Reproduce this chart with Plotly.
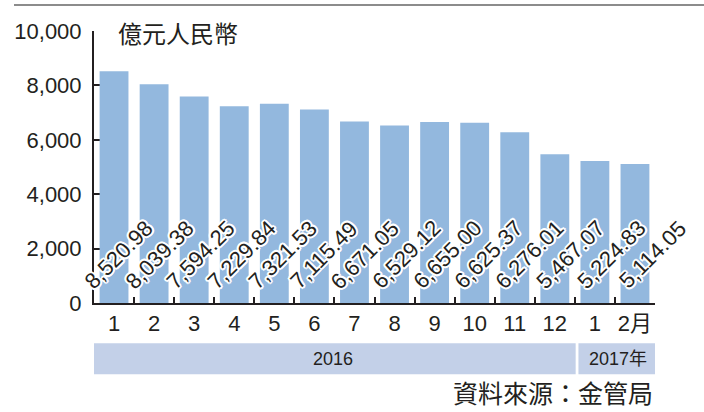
import plotly.graph_objects as go

cat_ids = ["2016-01", "2016-02", "2016-03", "2016-04", "2016-05", "2016-06", "2016-07",
           "2016-08", "2016-09", "2016-10", "2016-11", "2016-12", "2017-01", "2017-02"]
tick_labels = ["1", "2", "3", "4", "5", "6", "7", "8", "9", "10", "11", "12", "1", "2月"]
values = [8520.98, 8039.38, 7594.25, 7229.84, 7321.53, 7115.49, 6671.05,
          6529.12, 6655.00, 6625.37, 6276.01, 5467.07, 5224.83, 5114.05]
value_texts = ["8,520.98", "8,039.38", "7,594.25", "7,229.84", "7,321.53", "7,115.49", "6,671.05",
               "6,529.12", "6,655.00", "6,625.37", "6,276.01", "5,467.07", "5,224.83", "5,114.05"]
y_ticks = [0, 2000, 4000, 6000, 8000, 10000]
y_tick_text = ["0", "2,000", "4,000", "6,000", "8,000", "10,000"]
years = ["2016", "2017年"]
unit_label = "億元人民幣"
source_label = "資料來源：金管局"

NUM = "Liberation Sans, Arial, Noto Sans CJK TC, sans-serif"
CJK = "Noto Sans CJK TC, Noto Sans CJK SC, sans-serif"
INK = "#231f20"
BAR = "#93b8de"
BAND = "#c3d0e8"

fig = go.Figure(go.Bar(x=cat_ids, y=values, marker=dict(color=BAR, line=dict(width=0)),
                       hoverinfo="skip"))

halo = ("white 2px 0px 0px, white -2px 0px 0px, white 0px 2px 0px, white 0px -2px 0px, "
        "white 1.5px 1.5px 0px, white -1.5px -1.5px 0px, white 1.5px -1.5px 0px, white -1.5px 1.5px 0px")
annotations = []
for i, (c, t) in enumerate(zip(cat_ids, value_texts)):
    annotations.append(dict(x=c, y=1770, xref="x", yref="y", text=t, showarrow=False,
                            textangle=-45, xshift=5 + i * 1.0,
                            font=dict(family=NUM, size=22, color=INK, shadow=halo)))

annotations.append(dict(x=(116 - 94) / 561, xref="paper", y=0.993, yref="paper", text=unit_label,
                        showarrow=False, xanchor="left", yanchor="middle",
                        font=dict(family=CJK, size=24, color=INK)))
annotations.append(dict(x=1.0, xref="paper", y=-0.328, yref="paper", text=source_label,
                        showarrow=False, xanchor="right", yanchor="middle",
                        font=dict(family=CJK, size=25, color=INK)))

shapes = [
    dict(type="rect", xref="x", yref="paper", x0=-0.59, x1=11.52, y0=-0.262, y1=-0.1476,
         fillcolor=BAND, line=dict(width=0), layer="below"),
    dict(type="rect", xref="x", yref="paper", x0=11.59, x1=13.54, y0=-0.262, y1=-0.1476,
         fillcolor=BAND, line=dict(width=0), layer="below"),
    dict(type="line", xref="paper", yref="paper", x0=-0.1426, x1=1.09, y0=1.096, y1=1.096,
         line=dict(color="#8c8c8c", width=2)),
]
annotations.append(dict(x=(-0.59 + 11.52) / 2, xref="x", y=-0.205, yref="paper", text=years[0],
                        showarrow=False, yanchor="middle",
                        font=dict(family=NUM, size=18, color=INK)))
annotations.append(dict(x=(11.59 + 13.54) / 2, xref="x", y=-0.205, yref="paper", text=years[1],
                        showarrow=False, yanchor="middle",
                        font=dict(family=NUM, size=18, color=INK)))

fig.update_layout(
    width=704, height=412,
    margin=dict(l=94, r=49, t=31, b=109, autoexpand=False),
    paper_bgcolor="white", plot_bgcolor="white",
    bargap=0.28, showlegend=False,
    annotations=annotations, shapes=shapes,
    xaxis=dict(type="category", tickmode="array", tickvals=cat_ids, ticktext=tick_labels,
               tickson="boundaries", ticks="inside", ticklen=6, tickwidth=1.5, tickcolor=INK,
               showline=True, linecolor=INK, linewidth=2, showgrid=False, zeroline=False,
               tickangle=0, automargin=False, ticklabelstandoff=0,
               range=[-0.5, 13.5], tickfont=dict(family=NUM, size=22, color=INK)),
    yaxis=dict(range=[0, 10000], tickmode="array", tickvals=y_ticks, ticktext=y_tick_text,
               ticks="inside", ticklen=14, tickwidth=1.5, tickcolor=INK, layer="below traces",
               showline=True, linecolor=INK, linewidth=2, showgrid=False, zeroline=False,
               automargin=False, ticklabelstandoff=6,
               tickfont=dict(family=NUM, size=22, color=INK)),
)

fig.write_html("out.html", config={"displayModeBar": False},
               post_script="document.body.style.margin='0';document.body.style.overflow='hidden';")
